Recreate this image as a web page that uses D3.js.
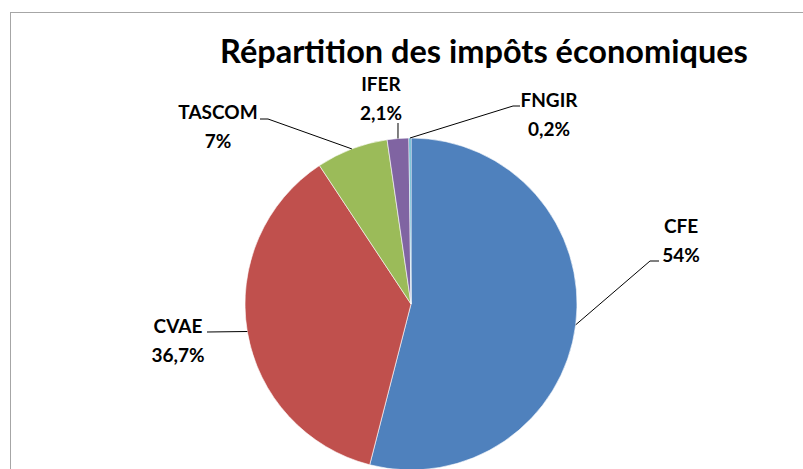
<!DOCTYPE html>
<html>
<head>
<meta charset="utf-8">
<script src="https://cdn.jsdelivr.net/npm/d3@7"></script>
<style>
  body { margin: 0; background: #fff; }
  text { font-family: Lato, "Open Sans", sans-serif; font-weight: 700; fill: #000; }
</style>
</head>
<body>
<svg id="chart" width="803" height="469"></svg>
<script>
// chart data
var names = ["CFE", "CVAE", "TASCOM", "IFER", "FNGIR"];
var values = [54, 36.7, 7, 2.1, 0.2];
var colors = ["#4F81BD", "#C0504D", "#9BBB59", "#8064A2", "#4BACC6"];
var title = "Répartition des impôts économiques";

// layout
var width = 803, height = 469;
var cx = 411, cy = 304, radius = 166;
var lineGap = 29;

// label placement: text centre x, baseline of first line, leader elbow
var labelPos = [
  { x: 681, y: 233, elbow: [[659, 261], [650, 261]] },
  { x: 178, y: 333, elbow: [[207, 332]] },
  { x: 218, y: 119, elbow: [[260, 119], [268, 119]] },
  { x: 381, y: 91,  elbow: [[398, 123]] },
  { x: 549, y: 107, elbow: [[513, 106], [520, 106]].reverse() }
];

var svg = d3.select("#chart");

// outer frame
svg.append("rect")
  .attr("x", 10.5)
  .attr("y", 12.5)
  .attr("width", 800)
  .attr("height", 470)
  .attr("fill", "none")
  .attr("stroke", "#A6A6A6")
  .attr("stroke-width", 1);

// title, sized to span its box
var titleText = svg.append("text")
  .attr("x", 484)
  .attr("y", 63)
  .attr("text-anchor", "middle")
  .style("font-size", "31px")
  .text(title);
var tw = titleText.node().getComputedTextLength();
titleText.style("font-size", (31 * 528 / tw) + "px");

var pie = d3.pie().sort(null).value(function(d) { return d; });
var arcs = pie(values);

var arc = d3.arc().innerRadius(0).outerRadius(radius);
var edge = d3.arc().innerRadius(radius).outerRadius(radius);

var g = svg.append("g")
  .attr("transform", "translate(" + cx + "," + cy + ")");

g.selectAll("path")
  .data(arcs)
  .enter()
  .append("path")
  .attr("d", arc)
  .attr("fill", function(d, i) { return colors[i]; })
  .attr("stroke", "#fff")
  .attr("stroke-width", 0.6);

// leader lines
var line = d3.line();
svg.selectAll("path.leader")
  .data(arcs)
  .enter()
  .append("path")
  .attr("class", "leader")
  .attr("fill", "none")
  .attr("stroke", "#000")
  .attr("stroke-width", 1)
  .attr("d", function(d, i) {
    var mid = (d.startAngle + d.endAngle) / 2;
    var p = [cx + radius * Math.sin(mid), cy - radius * Math.cos(mid)];
    var pts = labelPos[i].elbow.slice();
    pts.push(p);
    return line(pts);
  });

// labels
var fmt = function(v) { return String(v).replace(".", ",") + "%"; };
var labels = svg.selectAll("g.label")
  .data(arcs)
  .enter()
  .append("g")
  .attr("class", "label");

labels.append("text")
  .attr("x", function(d, i) { return labelPos[i].x; })
  .attr("y", function(d, i) { return labelPos[i].y; })
  .attr("text-anchor", "middle")
  .style("font-size", "19px")
  .text(function(d, i) { return names[i]; });

labels.append("text")
  .attr("x", function(d, i) { return labelPos[i].x; })
  .attr("y", function(d, i) { return labelPos[i].y + lineGap; })
  .attr("text-anchor", "middle")
  .style("font-size", "19px")
  .text(function(d) { return fmt(d.data); });
</script>
</body>
</html>
